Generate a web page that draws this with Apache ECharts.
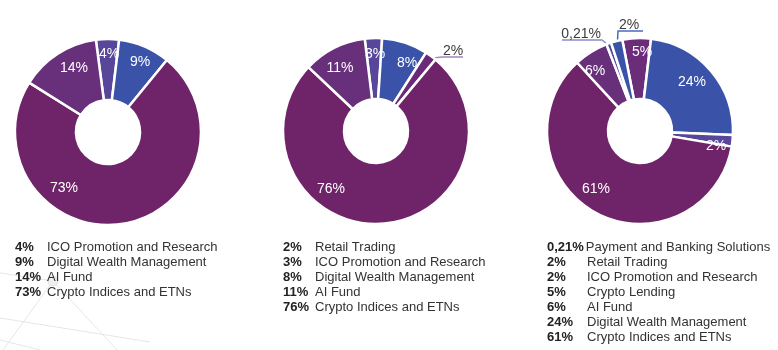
<!DOCTYPE html>
<html>
<head>
<meta charset="utf-8">
<script src="https://cdn.jsdelivr.net/npm/echarts@6/dist/echarts.min.js"></script>
<style>
  html, body { margin: 0; padding: 0; background: #fff; }
  #chart { width: 778px; height: 350px; }
</style>
</head>
<body>
<div id="chart"></div>
<script>
// slices listed clockwise from the start angle
const pie1Names = ['ICO Promotion and Research', 'Digital Wealth Management', 'Crypto Indices and ETNs', 'AI Fund']
const pie1Values = [4, 9, 73, 14]
const pie1Legend = ['ICO Promotion and Research', 'Digital Wealth Management', 'AI Fund', 'Crypto Indices and ETNs']

const pie2Names = ['ICO Promotion and Research', 'Digital Wealth Management', 'Retail Trading', 'Crypto Indices and ETNs', 'AI Fund']
const pie2Values = [3, 8, 2, 76, 11]
const pie2Legend = ['Retail Trading', 'ICO Promotion and Research', 'Digital Wealth Management', 'AI Fund', 'Crypto Indices and ETNs']

const pie3Names = ['Crypto Lending', 'Digital Wealth Management', 'ICO Promotion and Research', 'Crypto Indices and ETNs', 'AI Fund', 'Payment and Banking Solutions', 'Retail Trading']
const pie3Values = [5, 24, 2, 61, 6, 0.21, 2]
const pie3Legend = ['Payment and Banking Solutions', 'Retail Trading', 'ICO Promotion and Research', 'Crypto Lending', 'AI Fund', 'Digital Wealth Management', 'Crypto Indices and ETNs']

const FONT = 'Liberation Sans'

const pies = [
  { names: pie1Names, values: pie1Values, legend: pie1Legend },
  { names: pie2Names, values: pie2Values, legend: pie2Legend },
  { names: pie3Names, values: pie3Values, legend: pie3Legend }
]

// layout / styling
const centers = [[108, 132], [376, 131], [640, 131]]
const startAngles = [97.5, 97, 101]
const colors = [
  ['#574699', '#3A53A8', '#6F2469', '#68307B'],
  ['#574699', '#3A53A8', '#6B2A77', '#6F2469', '#68307B'],
  ['#6B2C7A', '#3A53A8', '#574699', '#6F2469', '#68307B', '#4E4A9E', '#3A53A8']
]
// inside labels: offset from centre; outside labels: knee offset + underline length
const labelSpots = [
  [{ d: [1, -78] }, { d: [32, -70] }, { d: [-44, 56] }, { d: [-34, -64] }],
  [{ d: [-1, -77] }, { d: [31, -68] }, { k: [66, -74], len: 21, line: '#A487BF' }, { d: [-45, 58] }, { d: [-36, -63] }],
  [{ d: [2, -79] }, { d: [52, -49] }, { d: [76, 15] }, { d: [-44, 58] }, { d: [-45, -60] },
   { k: [-38, -91], len: -40, line: '#8A8CC6' }, { k: [-22, -100], len: 25, line: '#4D68C4' }]
]
const legendLeft = [10, 278, 542]
const legendPctWidth = [32, 32, 40]

const fmtPct = (v) => String(v).replace('.', ',') + '%'

const placeLabel = (pi, params) => {
  const spot = labelSpots[pi][params.dataIndex]
  const c = centers[pi]
  if (spot.d) {
    return { x: c[0] + spot.d[0], y: c[1] + spot.d[1], align: 'center', verticalAlign: 'middle' }
  }
  const knee = [c[0] + spot.k[0], c[1] + spot.k[1]]
  let start = knee
  const pts = params.labelLinePoints
  if (pts && pts[0]) {
    const dx = pts[0][0] - c[0]
    const dy = pts[0][1] - c[1]
    const l = Math.sqrt(dx * dx + dy * dy) || 1
    start = [c[0] + dx / l * 90, c[1] + dy / l * 90]
  }
  const end = [knee[0] + spot.len, knee[1]]
  return {
    x: knee[0] + (spot.len > 0 ? 1 : -1),
    y: knee[1] + 1,
    align: spot.len > 0 ? 'left' : 'right',
    verticalAlign: 'bottom',
    labelLinePoints: [start, knee, end]
  }
}

const series = pies.map((p, pi) => ({
  type: 'pie',
  center: centers[pi],
  radius: [32, 93],
  startAngle: startAngles[pi],
  clockwise: true,
  minAngle: pi === 2 ? 3 : 0,
  avoidLabelOverlap: false,
  silent: true,
  itemStyle: { borderColor: '#fff', borderWidth: 2.5 },
  label: {
    show: true,
    position: 'inside',
    color: '#fff',
    fontSize: 14,
    fontFamily: FONT,
    lineHeight: 14,
    formatter: (prm) => fmtPct(prm.value)
  },
  labelLine: { show: false },
  labelLayout: (params) => placeLabel(pi, params),
  data: p.names.map((n, i) => {
    const spot = labelSpots[pi][i]
    const item = { name: n, value: p.values[i], itemStyle: { color: colors[pi][i] } }
    if (spot.k) {
      item.label = { position: 'outside', color: '#3c3c3c' }
      item.labelLine = { show: true, length: 5, length2: 10, lineStyle: { color: spot.line, width: 1.5 } }
    }
    return item
  })
}))

const legends = pies.map((p, pi) => ({
  orient: 'vertical',
  left: legendLeft[pi],
  top: 239.6,
  padding: 0,
  icon: 'none',
  itemWidth: 0,
  itemHeight: 10,
  itemGap: 0,
  selectedMode: false,
  data: p.legend,
  formatter: (name) => {
    const v = p.values[p.names.indexOf(name)]
    const t = fmtPct(v)
    return (t.length > 4 ? '{q|' + t + '}' : '{p|' + t + '}') + '{n|' + name + '}'
  },
  textStyle: {
    fontFamily: FONT,
    fontSize: 13,
    lineHeight: 15,
    color: '#333',
    rich: {
      p: { fontFamily: FONT, fontSize: 13, fontWeight: 'bold', color: '#222', width: legendPctWidth[pi], lineHeight: 15 },
      q: { fontFamily: FONT, fontSize: 13, fontWeight: 'bold', color: '#222', padding: [0, 2, 0, 0], lineHeight: 15 },
      n: { fontFamily: FONT, fontSize: 13, color: '#333', lineHeight: 15 }
    }
  }
}))

const bgLine = (x1, y1, x2, y2) => ({
  type: 'line', silent: true, z: -10,
  shape: { x1, y1, x2, y2 },
  style: { stroke: '#e6e6e6', lineWidth: 1 }
})

const chart = echarts.init(document.getElementById('chart'))
chart.setOption({
  animation: false,
  backgroundColor: '#fff',
  graphic: [
    bgLine(0, 273, 53, 281),
    bgLine(53, 281, 3, 350),
    bgLine(53, 281, 117, 350),
    bgLine(0, 318, 150, 342),
    bgLine(0, 340, 40, 350),
    {
      type: 'circle', silent: true, z: -10,
      shape: { cx: 53, cy: 281, r: 5 },
      style: { fill: '#efefef', stroke: '#e2e2e2' }
    }
  ],
  legend: legends,
  series: series
})
</script>
</body>
</html>
